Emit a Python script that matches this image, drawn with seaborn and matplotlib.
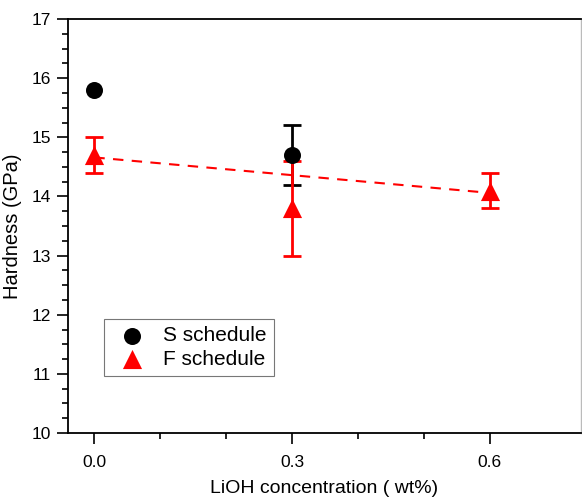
import numpy as np
import pandas as pd
import matplotlib
matplotlib.use("Agg")
import matplotlib.pyplot as plt
import seaborn as sns
from matplotlib.ticker import MultipleLocator, FixedLocator

# Data
s_x = [0.0, 0.3]
s_y = [15.8, 14.7]
s_err = [0.0, 0.5]

f_x = [0.0, 0.3, 0.6]
f_y = [14.7, 13.8, 14.1]
f_err = [0.3, 0.8, 0.3]

fit_x = [0.0, 0.6]
fit_y = [14.66, 14.06]

x_ticks = [0.0, 0.3, 0.6]
x_ticklabels = ["0.0", "0.3", "0.6"]
x_minor = [0.1, 0.2, 0.4, 0.5]

sns.set_theme(style="ticks")
plt.rcParams['font.family'] = ['Liberation Sans', 'DejaVu Sans']
plt.rcParams['text.color'] = 'black'
plt.rcParams['axes.labelcolor'] = 'black'
plt.rcParams['xtick.color'] = 'black'
plt.rcParams['ytick.color'] = 'black'

fig = plt.figure(figsize=(5.82, 4.98), dpi=100)
ax = fig.add_axes([0.1168, 0.1305, 0.998 - 0.1168, 0.9618 - 0.1305])

sns.lineplot(x=fit_x, y=fit_y, ax=ax, color="red", linestyle=(0, (5, 4)), linewidth=1.5, zorder=2)

ax.errorbar(s_x[1:], s_y[1:], yerr=s_err[1:], fmt="none", ecolor="black",
            elinewidth=2, capsize=6.5, capthick=2, zorder=3)
ax.errorbar(f_x, f_y, yerr=f_err, fmt="none", ecolor="red",
            elinewidth=2, capsize=6.5, capthick=2, zorder=4)

sns.scatterplot(x=s_x, y=s_y, ax=ax, marker="o", s=150, color="black",
                edgecolor="black", linewidth=0, label="S schedule", zorder=5)
sns.scatterplot(x=f_x, y=f_y, ax=ax, marker="^", s=190, color="red",
                edgecolor="red", linewidth=0, label="F schedule", zorder=6)

ax.set_xlim(-0.04, 0.738)
ax.set_ylim(10, 17)
ax.xaxis.set_major_locator(FixedLocator(x_ticks))
ax.set_xticklabels(x_ticklabels)
ax.xaxis.set_minor_locator(FixedLocator(x_minor))
ax.yaxis.set_major_locator(MultipleLocator(1))
ax.yaxis.set_minor_locator(MultipleLocator(0.25))

ax.tick_params(axis="both", which="major", direction="out", length=8, width=1.2,
               labelsize=12.5, pad=4)
ax.tick_params(axis="both", which="minor", direction="out", length=4.5, width=1.2)
ax.tick_params(axis="x", which="major", pad=8)

for side in ["left", "bottom", "top"]:
    ax.spines[side].set_color("black")
    ax.spines[side].set_linewidth(1.3)
ax.spines["right"].set_color("#bbbbbb")
ax.spines["right"].set_linewidth(1.0)

ax.set_xlabel("LiOH concentration ( wt%)", fontsize=14, labelpad=7)
ax.set_ylabel("Hardness (GPa)", fontsize=14.5, labelpad=7)

leg = ax.legend(loc="upper left", bbox_to_anchor=(0.07, 0.275), fontsize=15,
                frameon=True, fancybox=False, edgecolor="#555555", borderaxespad=0,
                handletextpad=0.5, borderpad=0.35, labelspacing=0.2, markerscale=1.0)
leg.get_frame().set_linewidth(0.8)

fig.savefig("out.png", dpi=100)
